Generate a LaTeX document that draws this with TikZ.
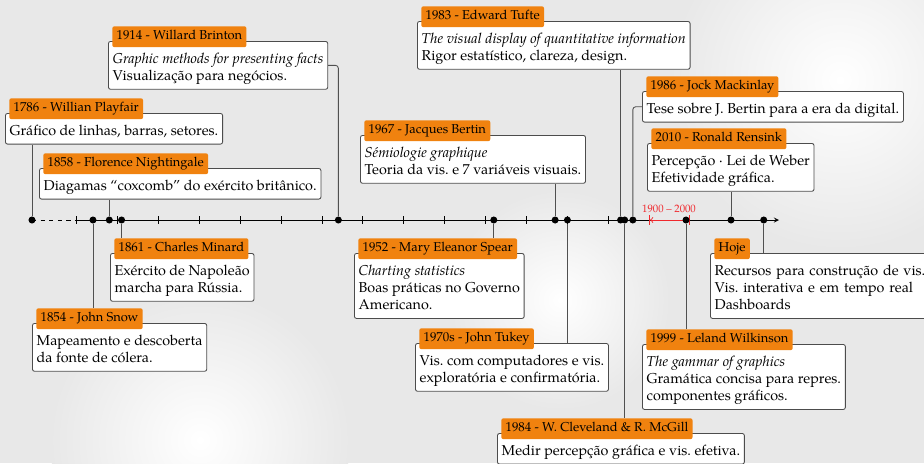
\documentclass[tikz,border=0pt]{standalone}
\usepackage{fontspec}
\setmainfont{TeX Gyre Pagella}
\frenchspacing
\usetikzlibrary{calc}
\definecolor{laranja}{HTML}{F0820F}
\definecolor{linha}{HTML}{505050}
\definecolor{vermelho}{HTML}{F0282D}

\begin{document}
\begin{tikzpicture}[x=0.698pt,y=-0.698pt,
    caixa/.style={draw=black!70,fill=white,rounded corners=1.5pt,line width=0.6pt,
        anchor=north west,align=left,inner xsep=3pt,inner ysep=2.5pt},
    aba/.style={fill=laranja,rounded corners=1.5pt,anchor=north west,font=\small,
        inner xsep=3pt,inner ysep=0pt,minimum height=14.6pt,text height=6.5pt,text depth=2pt},
    ponto/.style={circle,fill=black,inner sep=0pt,minimum size=4.9pt},
    liga/.style={draw=linha,line width=0.6pt,rounded corners=2pt}]
    \def\ty{220} % linha do tempo
    \def\xa{117.5} \def\sc{4.09} % 1860 e px por ano
    \def\esp{\rule{0pt}{12.8pt}} % espaco sob a aba
    % fundo
    \clip (0,0) rectangle (924,463);
    \fill[black!9] (0,0) rectangle (924,463);
    \shade[inner color=white,outer color=black!9] (840,80) circle (170);
    \shade[inner color=white,outer color=black!9] (200,440) circle (150);
    \shade[inner color=white,outer color=black!9] (560,300) circle (110);
    % eixo
    \draw[dashed,line width=0.6pt] (32,\ty)--(77.6,\ty);
    \draw[->,>=stealth,line width=0.6pt] (77.6,\ty)--(779,\ty);
    \foreach \a in {1850,1860,...,1980}
        \draw[line width=0.6pt] ({\xa+(\a-1860)*\sc},\ty-4)--++(0,8);
    \coordinate (ea) at ({\xa+130*\sc},\ty);
    \coordinate (eb) at ({\xa+140*\sc},\ty);
    \draw[vermelho,line width=0.6pt,|<->|] (ea)--(eb);
    \node[text=vermelho,font=\fontsize{7.5}{9}\selectfont] (escala) at (669,209) {1900 -- 2000};
    % pontos
    \node[ponto] (d1786) at (32,\ty) {};
    \foreach \n in {1854,1858,1861,1914,1952,1967,1970,1983,1984,1986,1999,2010}
        \node[ponto] (d\n) at ({\xa+(\n-1860)*\sc},\ty) {};
    \node[ponto] (dHoje) at ({\xa+158*\sc},\ty) {};
    % caixas acima
    \node[caixa] (p1786) at (5,113) {\esp Gráfico de linhas, barras, setores.\strut};
    \node[caixa] (p1914) at (108,41) {\esp\textit{Graphic methods for presenting facts}\\Visualização para negócios.\strut};
    \node[caixa] (p1858) at (39,168) {\esp Diagamas “coxcomb” do exército britânico.\strut};
    \node[caixa] (p1967) at (360,135) {\esp\textit{Sémiologie graphique}\\Teoria da vis. e 7 variáveis visuais.\strut};
    \node[caixa] (p1983) at (417,21) {\esp\textit{The visual display of quantitative information}\\Rigor estatístico, clareza, design.\strut};
    \node[caixa] (p1986) at (642,91) {\esp Tese sobre J. Bertin para a era da digital.\strut};
    \node[caixa] (p2010) at (647,143) {\esp Percepção · Lei de Weber\\Efetividade gráfica.\strut};
    % caixas abaixo
    \node[caixa] (p1861) at (110,253) {\esp Exército de Napoleão\\marcha para Rússia.\strut};
    \node[caixa] (p1854) at (32,323) {\esp Mapeamento e descoberta\\da fonte de cólera.\strut};
    \node[caixa] (p1952) at (354,253) {\esp\textit{Charting statistics}\\Boas práticas no Governo\\Americano.\strut};
    \node[caixa] (p1970) at (415,343) {\esp Vis. com computadores e vis.\\exploratória e confirmatória.\strut};
    \node[caixa] (p1984) at (497,433) {\esp Medir percepção gráfica e vis. efetiva.\strut};
    \node[caixa] (p1999) at (642,344) {\esp\textit{The gammar of graphics}\\Gramática concisa para repres.\\componentes gráficos.\strut};
    \node[caixa,text width=160pt] (pHoje) at (710,253) {\esp Recursos para construção de vis.\\Vis. interativa e em tempo real\\Dashboards\strut};
    % abas
    \node[aba] (t1786) at ($(p1786.north west)+(4,-15)$) {1786 - Willian Playfair};
    \node[aba] (t1914) at ($(p1914.north west)+(4,-15)$) {1914 - Willard Brinton};
    \node[aba] (t1858) at ($(p1858.north west)+(4,-15)$) {1858 - Florence Nightingale};
    \node[aba] (t1967) at ($(p1967.north west)+(4,-15)$) {1967 - Jacques Bertin};
    \node[aba] (t1983) at ($(p1983.north west)+(4,-15)$) {1983 - Edward Tufte};
    \node[aba] (t1986) at ($(p1986.north west)+(4,-15)$) {1986 - Jock Mackinlay};
    \node[aba] (t2010) at ($(p2010.north west)+(4,-15)$) {2010 - Ronald Rensink};
    \node[aba] (t1861) at ($(p1861.north west)+(4,-15)$) {1861 - Charles Minard};
    \node[aba] (t1854) at ($(p1854.north west)+(4,-15)$) {1854 - John Snow};
    \node[aba] (t1952) at ($(p1952.north west)+(4,-15)$) {1952 - Mary Eleanor Spear};
    \node[aba] (t1970) at ($(p1970.north west)+(4,-15)$) {1970s - John Tukey};
    \node[aba] (t1984) at ($(p1984.north west)+(4,-15)$) {1984 - W. Cleveland \& R. McGill};
    \node[aba] (t1999) at ($(p1999.north west)+(4,-15)$) {1999 - Leland Wilkinson};
    \node[aba] (tHoje) at ($(pHoje.north west)+(4,-15)$) {Hoje};
    % ligacoes
    \draw[liga] (d1786)--(d1786 |- p1786.south);
    \draw[liga] (d1858)--(d1858 |- p1858.south);
    \draw[liga] (d1914) |- (p1914.east);
    \draw[liga] (d1967)--(d1967 |- p1967.south);
    \draw[liga] (d1983)--(d1983 |- p1983.south);
    \draw[liga] (d1986) |- (p1986.west);
    \draw[liga] (d2010)--(d2010 |- p2010.south);
    \draw[liga] (d1854)--(d1854 |- t1854.north);
    \draw[liga] (d1861)--(d1861 |- t1861.north);
    \draw[liga] (d1952)--(d1952 |- t1952.north);
    \draw[liga] (d1970)--(d1970 |- p1970.north);
    \draw[liga] (d1984)--(d1984 |- t1984.north);
    \draw[liga] (d1999)--(d1999 |- t1999.north);
    \draw[liga] (dHoje)--(dHoje |- pHoje.north);
\end{tikzpicture}
\end{document}
